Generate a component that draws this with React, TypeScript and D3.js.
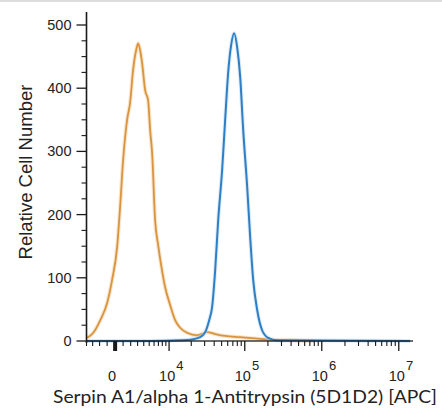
import * as d3 from "d3";

const W = 442;
const H = 410;

// biexponential-ish x axis: position follows asinh(v / C)
const C = 4149;
const X_MIN = -4000;
const X_MAX = 1.53e7;

const yMajor = [0, 100, 200, 300, 400, 500];
const yMinor = d3.range(0, 525, 25).filter((v) => v % 100 !== 0);
const xDecades = [4, 5, 6, 7];
const xMinor = [
	-4000, -3000, -2000, -1000, 1000, 2000, 3000, 4000, 5000, 6000, 7000, 8000, 9000,
	...[4, 5, 6].flatMap((k) => [2, 3, 4, 5, 6, 7, 8, 9].map((m) => m * 10 ** k)),
];

// isotype control (orange)
const isoX = [
	-3900, -2900, -1900, -1000, -370, 250, 620, 1000, 1520, 1920, 2340, 2780, 3090, 3400,
	3720, 4240, 4790, 5180, 5590, 6230, 6930, 7690, 8790, 10350, 12130, 14200, 17600,
	23900, 32400, 41200, 55600, 87000, 136000, 214000, 389000, 800000,
];
const isoY = [
	5, 13, 33, 60, 97, 149, 212, 286, 350, 377, 429, 460, 471, 460, 440, 397, 381, 334, 297,
	191, 152, 120, 85, 57, 33, 21, 13, 9, 14, 11, 8, 6, 4, 2, 1, 0,
];

// Serpin A1 stained (blue)
const stainX = [
	-3900, 5180, 14200, 19300, 26200, 30500, 34400, 37600, 41200, 45100, 50800, 55600, 60800,
	66500, 72800, 79600, 87200, 95400, 107500, 117500, 128600, 145000, 168000, 201000,
	263000, 1.4e7,
];
const stainY = [
	0, 0, 1, 2, 6, 14, 33, 54, 112, 191, 271, 350, 424, 468, 487, 465, 418, 334, 244, 165,
	97, 49, 17, 5, 1, 0,
];

const X_LEFT = 86.5;
const X_RIGHT = 413;
const Y_ZERO = 341;
const Y_TOP = 25;

const xLin = d3
	.scaleLinear()
	.domain([Math.asinh(X_MIN / C), Math.asinh(X_MAX / C)])
	.range([X_LEFT, X_RIGHT]);
const x = (v: number) => xLin(Math.asinh(v / C));
const y = d3.scaleLinear().domain([0, 500]).range([Y_ZERO, Y_TOP]);

const line = d3
	.line<[number, number]>()
	.x((d) => x(d[0]))
	.y((d) => y(d[1]))
	.curve(d3.curveMonotoneX);

const isoPath = line(isoX.map((v, i) => [v, isoY[i]]) as [number, number][]) ?? "";
const stainPath = line(stainX.map((v, i) => [v, stainY[i]]) as [number, number][]) ?? "";

const tickFont = "'Liberation Sans', Arial, sans-serif";
const AXIS = "#1a1a1a";

export default function App() {
	return (
		<svg
			width={W}
			height={H}
			viewBox={`0 0 ${W} ${H}`}
			style={{ position: "absolute", left: 0, top: 0, background: "#fff" }}
		>
			<line x1={0} x2={W} y1={1} y2={1} stroke="#dcdcdc" strokeWidth={2} />

			{/* curves */}
			<path d={isoPath} fill="none" stroke="#f3d2a6" strokeWidth={4} opacity={0.6} />
			<path d={isoPath} fill="none" stroke="#d9943f" strokeWidth={1.8} />
			<path d={stainPath} fill="none" stroke="#c6def4" strokeWidth={4} opacity={0.6} />
			<path d={stainPath} fill="none" stroke="#2f7fc4" strokeWidth={2} />

			{/* y axis */}
			<line x1={X_LEFT} x2={X_LEFT} y1={12} y2={Y_ZERO + 2} stroke={AXIS} strokeWidth={1.6} />
			{yMajor.map((v) => (
				<g key={`ym${v}`}>
					<line x1={X_LEFT - 10} x2={X_LEFT} y1={y(v)} y2={y(v)} stroke={AXIS} strokeWidth={1.3} />
					<text
						x={X_LEFT - 15}
						y={y(v)}
						textAnchor="end"
						dominantBaseline="central"
						fontFamily={tickFont}
						fontSize={14.5}
						fill="#222"
					>
						{v}
					</text>
				</g>
			))}
			{yMinor.map((v) => (
				<line key={`yn${v}`} x1={X_LEFT - 5} x2={X_LEFT} y1={y(v)} y2={y(v)} stroke={AXIS} strokeWidth={1.1} />
			))}

			{/* x axis */}
			<line x1={X_LEFT} x2={X_RIGHT} y1={Y_ZERO} y2={Y_ZERO} stroke={AXIS} strokeWidth={1.6} opacity={0.85} />
			<line x1={x(0)} x2={x(0)} y1={Y_ZERO} y2={Y_ZERO + 10} stroke={AXIS} strokeWidth={4} />
			{xMinor.map((v) => (
				<line key={`xn${v}`} x1={x(v)} x2={x(v)} y1={Y_ZERO} y2={Y_ZERO + 5} stroke={AXIS} strokeWidth={1.1} />
			))}
			{xDecades.map((k) => (
				<g key={`xd${k}`}>
					<line x1={x(10 ** k)} x2={x(10 ** k)} y1={Y_ZERO} y2={Y_ZERO + 10} stroke={AXIS} strokeWidth={1.3} />
					<text x={x(10 ** k) - 10} y={381} fontFamily={tickFont} fontSize={14.5} fill="#222">
						10
						<tspan dx={1} dy={-11} fontSize={13}>
							{k}
						</tspan>
					</text>
				</g>
			))}
			<text x={x(0) - 3} y={381} textAnchor="middle" fontFamily={tickFont} fontSize={14.5} fill="#222">
				0
			</text>

			{/* axis titles */}
			<text
				transform="translate(32,172) rotate(-90)"
				textAnchor="middle"
				fontFamily={tickFont}
				fontSize={18.5}
				fill="#222"
			>
				Relative Cell Number
			</text>
			<text
				x={53}
				y={403}
				textLength={384}
				lengthAdjust="spacingAndGlyphs"
				fontFamily="Lato, 'Open Sans', sans-serif"
				fontSize={17}
				fill="#222"
			>
				Serpin A1/alpha 1-Antitrypsin (5D1D2) [APC]
			</text>
		</svg>
	);
}
